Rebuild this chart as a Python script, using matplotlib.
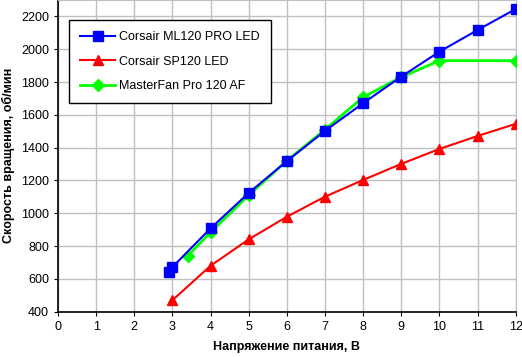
import matplotlib
matplotlib.use('Agg')
from matplotlib import pyplot as plt

plt.rcParams['font.family'] = ['Liberation Sans', 'DejaVu Sans']

ml_x = [2.9, 3, 4, 5, 6, 7, 8, 9, 10, 11, 12]
ml_y = [644, 672, 908, 1124, 1318, 1502, 1671, 1833, 1985, 2117, 2245]
sp_x = [3, 4, 5, 6, 7, 8, 9, 10, 11, 12]
sp_y = [470, 680, 841, 979, 1101, 1203, 1301, 1392, 1471, 1545]
mf_x = [3.4, 4, 5, 6, 7, 8, 9, 10, 12]
mf_y = [740, 884, 1110, 1320, 1510, 1708, 1830, 1930, 1930]

fig = plt.figure(figsize=(5.22, 3.57), dpi=100)
ax = fig.add_axes([58/522, (357-311.7)/357, (516-58.3)/522, 311.7/357])

ax.plot(mf_x, mf_y, color='#00ff00', lw=2, marker='D', ms=6, label='MasterFan Pro 120 AF', zorder=3)
ax.plot(ml_x, ml_y, color='#0000ff', lw=1.5, marker='s', ms=7, label='Corsair ML120 PRO LED', zorder=4)
ax.plot(sp_x, sp_y, color='#ff0000', lw=1.5, marker='^', ms=7, label='Corsair SP120 LED', zorder=4)

ax.set_xlim(0, 12)
ax.set_ylim(400, 2300)
ax.set_xticks(range(0, 13))
ax.set_yticks(range(400, 2201, 200))
ax.grid(True, color='#c0c0c0', lw=1)
ax.set_axisbelow(True)
ax.tick_params(labelsize=9, length=3, direction='out', color='black')
ax.spines['top'].set_color('#c0c0c0')
ax.spines['right'].set_color('#c0c0c0')
ax.spines['left'].set_linewidth(1.2)
ax.spines['bottom'].set_linewidth(1.2)

ax.set_xlabel('Напряжение питания, В', fontsize=9, fontweight='bold', labelpad=6)
ax.set_ylabel('Скорость вращения, об/мин', fontsize=9, fontweight='bold')
ax.yaxis.set_label_coords(-0.095, 0.5)

h, l = ax.get_legend_handles_labels()
order = [1, 2, 0]
leg = ax.legend([h[i] for i in order], [l[i] for i in order], loc='upper left',
                bbox_to_anchor=(0.024, 0.936), borderaxespad=0, fontsize=9, fancybox=False,
                framealpha=1, edgecolor='black', labelspacing=1.0,
                handlelength=2.8, borderpad=0.9, handletextpad=0.3)
leg.get_frame().set_linewidth(1)

plt.savefig('out.png', dpi=100)
